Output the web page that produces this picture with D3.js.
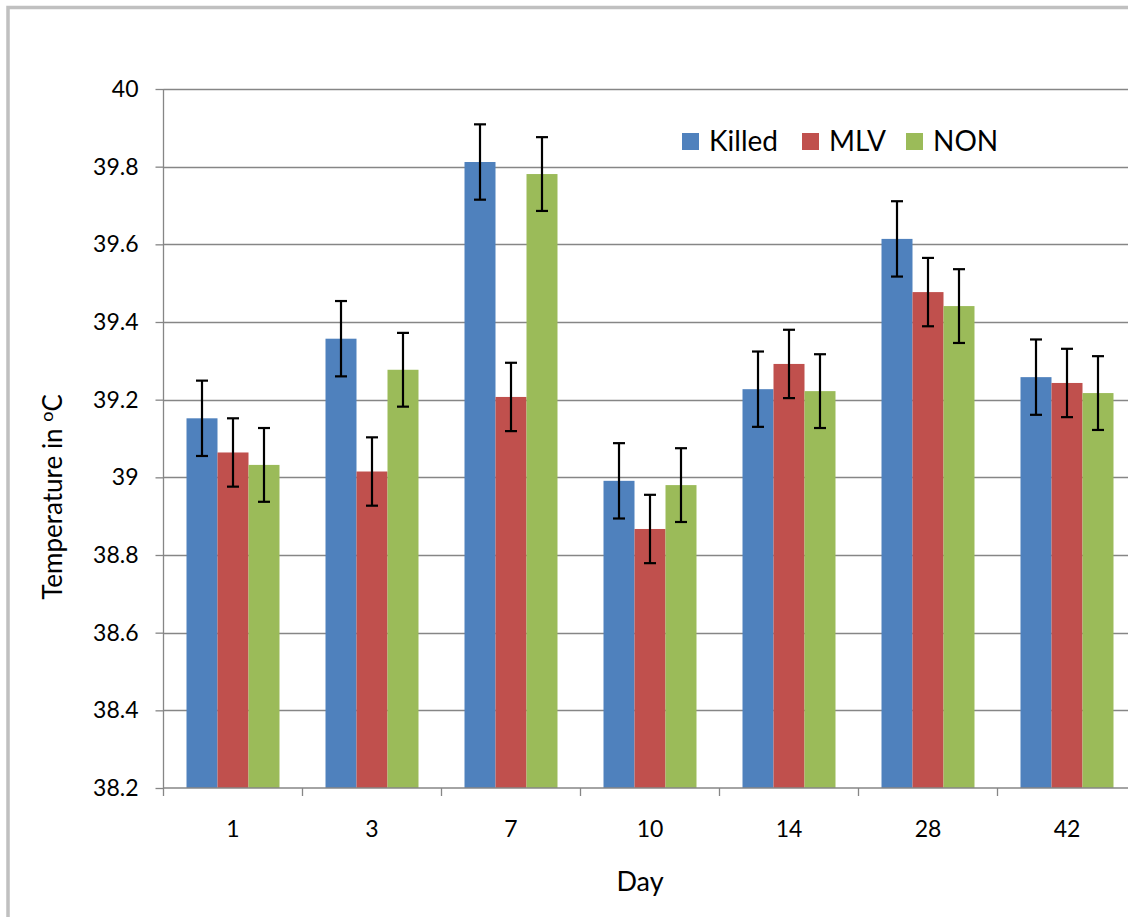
<!DOCTYPE html>
<html><head><meta charset="utf-8">
<script src="https://cdn.jsdelivr.net/npm/d3@7"></script>
<style>body{margin:0;background:#fff}svg{display:block}text{font-family:Lato,"Open Sans",sans-serif;fill:#000}</style>
</head><body>
<script>
const categories = ["1","3","7","10","14","28","42"];
const seriesNames = ["Killed","MLV","NON"];
const killed = [39.152, 39.357, 39.812, 38.991, 39.227, 39.614, 39.258];
const mlv    = [39.064, 39.015, 39.207, 38.867, 39.292, 39.477, 39.243];
const non    = [39.032, 39.277, 39.781, 38.980, 39.222, 39.441, 39.217];
const killedErr = [0.097, 0.097, 0.097, 0.097, 0.097, 0.097, 0.097];
const mlvErr    = [0.088, 0.088, 0.088, 0.088, 0.088, 0.088, 0.088];
const nonErr    = [0.095, 0.095, 0.095, 0.095, 0.095, 0.095, 0.095];
const yTicks = [38.2, 38.4, 38.6, 38.8, 39, 39.2, 39.4, 39.6, 39.8, 40];
const colors = ["#4F81BD", "#C0504D", "#9BBB59"];

const W = 1128, H = 917;
const svg = d3.select("body").append("svg").attr("width", W).attr("height", H);

// outer chart frame
svg.append("rect").attr("x", 8).attr("y", 7.5).attr("width", 1300).attr("height", 1100)
  .attr("fill", "none").attr("stroke", "#c0c0c0").attr("stroke-width", 3.5);

const pL = 163.5, pR = 163.5 + 7 * 139, pT = 89, pB = 788;
const x = d3.scaleBand().domain(categories).range([pL, pR]).paddingInner(0.331).paddingOuter(0.1655);
const xs = d3.scaleBand().domain(seriesNames).range([0, x.bandwidth()]);
const y = d3.scaleLinear().domain([38.2, 40]).range([pB, pT]);

const axisColor = "#868686";
// gridlines
svg.append("g").selectAll("line").data(yTicks.filter(t => t > 38.2)).join("line")
  .attr("x1", pL).attr("x2", W).attr("y1", d => Math.round(y(d)) + 0.5).attr("y2", d => Math.round(y(d)) + 0.5)
  .attr("stroke", axisColor).attr("stroke-width", 1.3);

// y axis
const yAxis = svg.append("g").attr("transform", `translate(${pL},0)`)
  .call(d3.axisLeft(y).tickValues(yTicks).tickSize(8).tickPadding(17).tickFormat(d => String(+d.toFixed(1))));
yAxis.select(".domain").attr("stroke", axisColor).attr("stroke-width", 1.3).attr("d", `M0,${pT}V${pB + 8}`);
yAxis.selectAll(".tick line").attr("stroke", axisColor).attr("stroke-width", 1.3);
yAxis.selectAll(".tick text").style("font-size", "23px").attr("fill", "#000").attr("font-family", null);

// bars
const series = [
  {name: "Killed", vals: killed, err: killedErr},
  {name: "MLV", vals: mlv, err: mlvErr},
  {name: "NON", vals: non, err: nonErr}
];
series.forEach((s, si) => {
  const g = svg.append("g");
  g.selectAll("rect").data(categories).join("rect")
    .attr("x", (c) => x(c) + xs(s.name))
    .attr("y", (c, i) => y(s.vals[i]))
    .attr("width", xs.bandwidth())
    .attr("height", (c, i) => y(38.2) - y(s.vals[i]))
    .attr("fill", colors[si]);
});

// x axis
const xAxisG = svg.append("g").attr("transform", `translate(0,${pB})`);
xAxisG.append("line").attr("x1", pL).attr("x2", W).attr("y1", 0).attr("y2", 0)
  .attr("stroke", axisColor).attr("stroke-width", 1.3);
xAxisG.selectAll("line.tk").data(categories).join("line").attr("class", "tk")
  .attr("x1", c => x(c) + x.bandwidth() / 2 + x.step() / 2).attr("x2", c => x(c) + x.bandwidth() / 2 + x.step() / 2)
  .attr("y1", 0).attr("y2", 8).attr("stroke", axisColor).attr("stroke-width", 1.3);
xAxisG.selectAll("text").data(categories).join("text")
  .attr("x", c => x(c) + x.bandwidth() / 2).attr("y", 49)
  .attr("text-anchor", "middle").style("font-size", "23px").text(c => c);

// error bars
series.forEach((s, si) => {
  const g = svg.append("g").attr("stroke", "#000").attr("stroke-width", 2.2);
  categories.forEach((c, i) => {
    const cx = x(c) + xs(s.name) + xs.bandwidth() / 2;
    const y1 = y(s.vals[i] + s.err[i]), y2 = y(s.vals[i] - s.err[i]);
    g.append("line").attr("x1", cx).attr("x2", cx).attr("y1", y1).attr("y2", y2);
    g.append("line").attr("x1", cx - 6).attr("x2", cx + 6).attr("y1", y1).attr("y2", y1);
    g.append("line").attr("x1", cx - 6).attr("x2", cx + 6).attr("y1", y2).attr("y2", y2);
  });
});

// axis titles
svg.append("text").attr("x", 640).attr("y", 891).attr("text-anchor", "middle")
  .style("font-size", "27px").text("Day");
const yt = svg.append("text").attr("transform", "translate(62,497) rotate(-90)")
  .attr("text-anchor", "middle").style("font-size", "26px");
yt.append("tspan").text("Temperature in ");
yt.append("tspan").attr("dy", -9).style("font-size", "18px").text("o");
yt.append("tspan").attr("dy", 9).text("C");

// legend
const legendX = [682, 802, 906];
const lg = svg.append("g");
seriesNames.forEach((n, i) => {
  lg.append("rect").attr("x", legendX[i]).attr("y", 133).attr("width", 17).attr("height", 17).attr("fill", colors[i]);
  lg.append("text").attr("x", legendX[i] + 27).attr("y", 151).style("font-size", "28px").text(n);
});
</script>
</body></html>
